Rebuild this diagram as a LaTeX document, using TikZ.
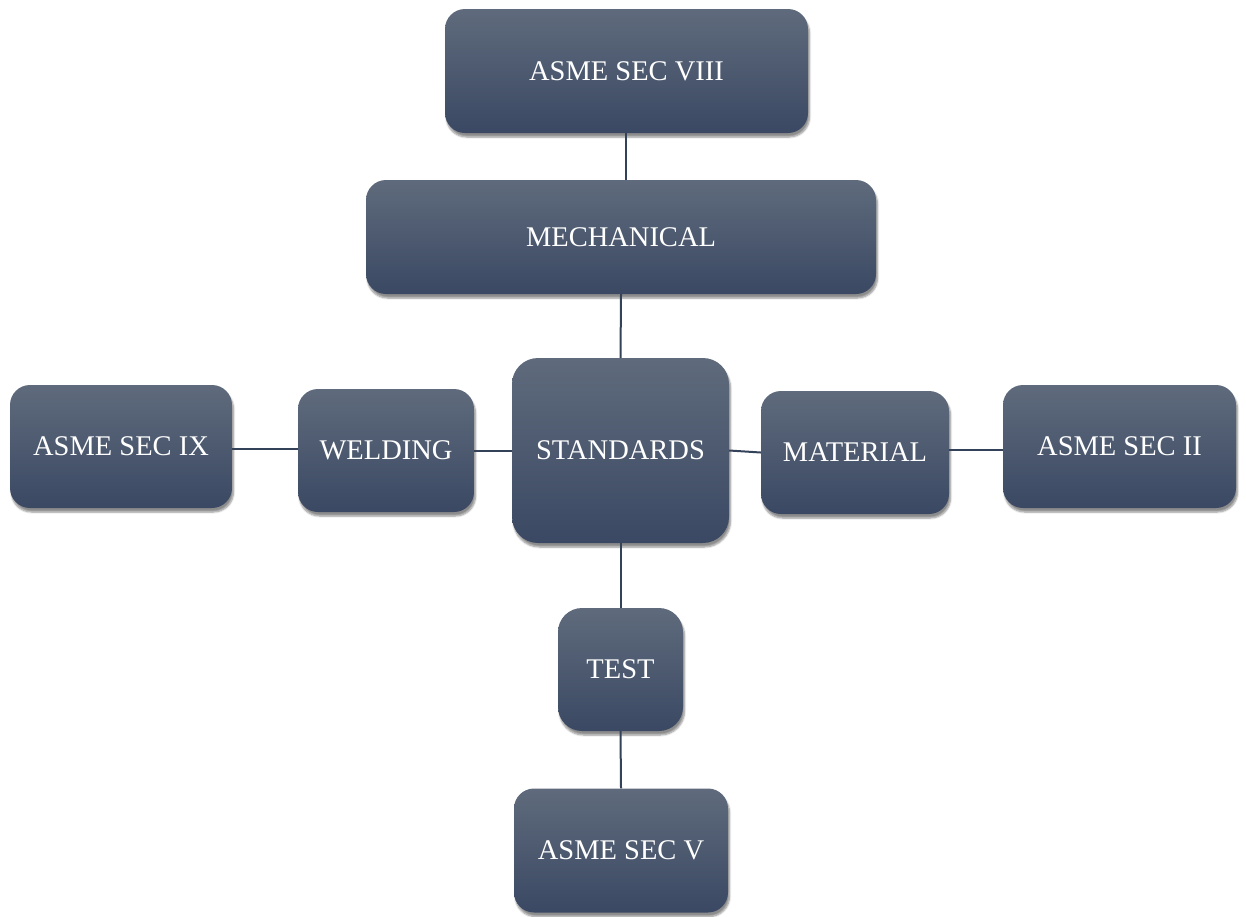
\documentclass[tikz,border=0pt]{standalone}
\usepackage{fontspec}
\setmainfont{Liberation Serif}
\usetikzlibrary{shadows.blur,calc}
\begin{document}
\begin{tikzpicture}[x=1pt,y=-1pt,
  boxnode/.style={rectangle, rounded corners=20pt, inner sep=0pt,
    top color=boxtop, bottom color=boxbot, draw=none,
    text=white, font=\fontsize{28.5}{32}\selectfont,
    blur shadow={shadow xshift=1.5pt, shadow yshift=-4pt, shadow blur steps=6, shadow opacity=45}},
  link/.style={draw=linecol, line width=2pt}]
\definecolor{boxtop}{HTML}{5F6B7C}
\definecolor{boxbot}{HTML}{3A4863}
\definecolor{linecol}{HTML}{344259}
\useasboundingbox (0,0) rectangle (1246,916);
\node[boxnode, minimum width=363pt, minimum height=124pt] (viii) at (626.5,71) {ASME SEC VIII};
\node[boxnode, minimum width=510pt, minimum height=114pt] (mech) at (621,237) {MECHANICAL};
\node[boxnode, minimum width=217pt, minimum height=185pt, rounded corners=26pt] (std) at (620.5,450.5) {STANDARDS};
\node[boxnode, minimum width=176pt, minimum height=123pt] (weld) at (386,450.5) {WELDING};
\node[boxnode, minimum width=222pt, minimum height=123pt] (ix) at (121,446.5) {ASME SEC IX};
\node[boxnode, minimum width=188pt, minimum height=123pt] (mat) at (855,452.5) {MATERIAL};
\node[boxnode, minimum width=233pt, minimum height=123pt] (ii) at (1119.5,446.5) {ASME SEC II};
\node[boxnode, minimum width=125pt, minimum height=123pt, rounded corners=24pt] (test) at (620.5,669.5) {TEST};
\node[boxnode, minimum width=214pt, minimum height=124pt] (v) at (621,850.5) {ASME SEC V};
\draw[link] (viii.south) ++(-1,0) coordinate (a1) -- (a1 |- mech.north);
\draw[link] (mech.south) -- (std.north);
\coordinate (m1) at ($(ix.east)!0.5!(weld.west)$);
\draw[link] (ix.east |- m1) -- (weld.west |- m1);
\draw[link] (weld.east) -- (std.west);
\draw[link] (std.east) -- (mat.west);
\coordinate (m2) at ($(mat.east)!0.5!(ii.west)$);
\draw[link] (mat.east |- m2) -- (ii.west |- m2);
\draw[link] (std.south) -- (test.north);
\draw[link] (test.south) -- (v.north);
\end{tikzpicture}
\end{document}
